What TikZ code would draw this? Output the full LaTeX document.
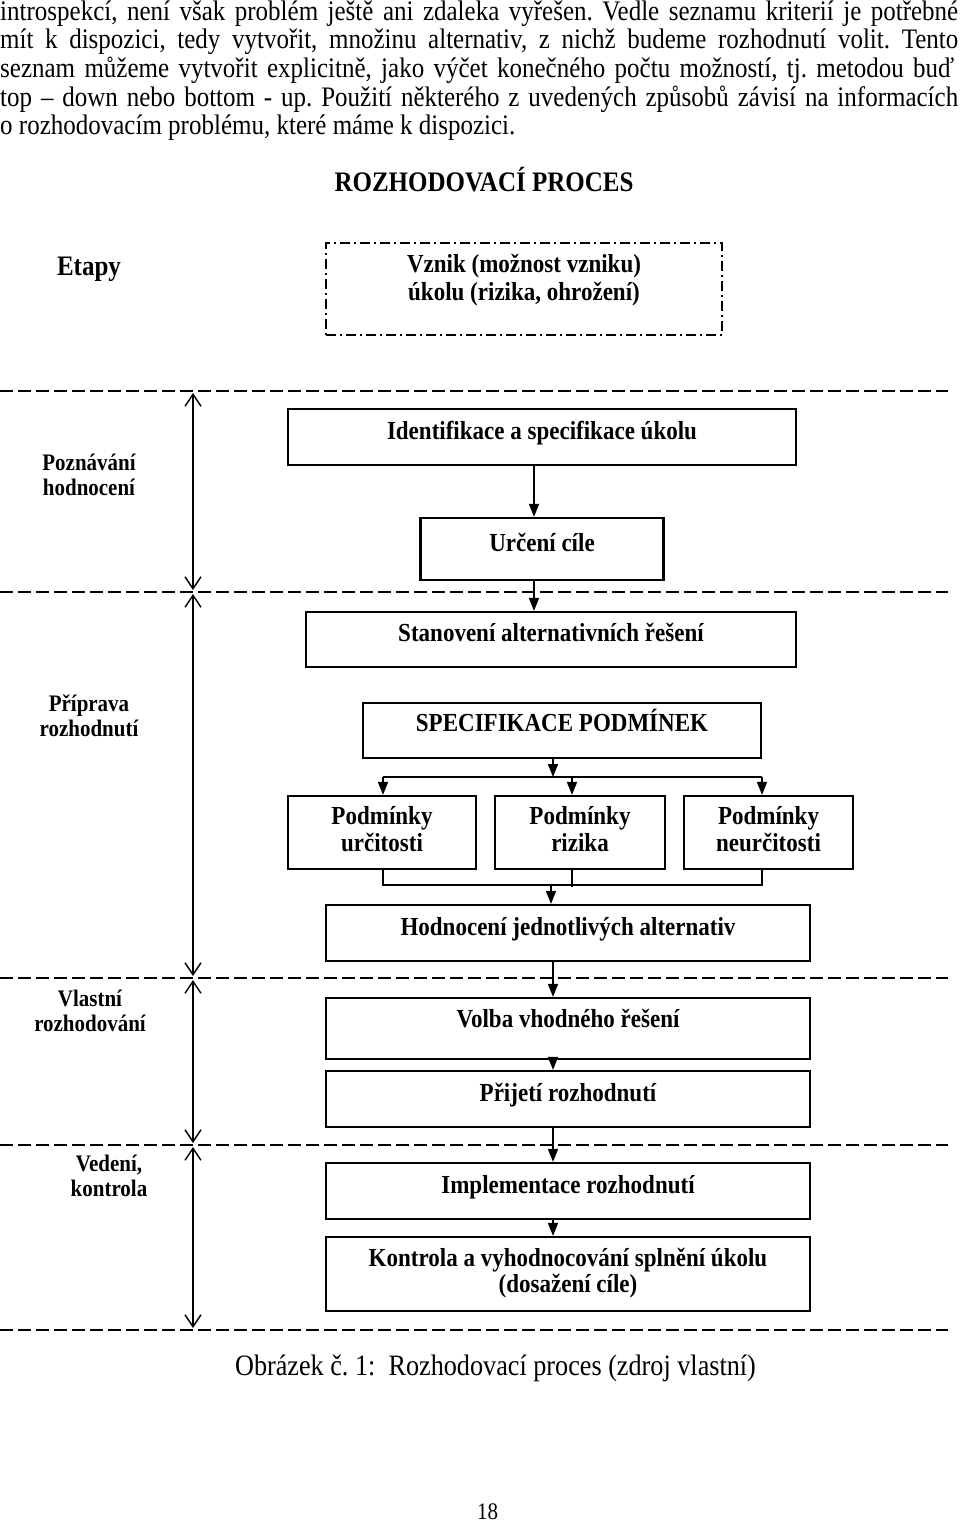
\documentclass[tikz,border=0pt]{standalone}
\usepackage{fontspec}
\setmainfont{Liberation Serif}[FakeStretch=0.885]
\usetikzlibrary{arrows.meta}
\frenchspacing
\newcommand\FBody{\fontsize{28.25}{28.7}\selectfont}
\newcommand\FBx{\fontsize{26}{27}\selectfont}
\newcommand\FLab{\fontsize{23.7}{25}\selectfont}
\newcommand\ML[1]{\begin{tabular}{@{}c@{}}#1\end{tabular}}
\tikzset{
  bx/.style={draw, line width=2.2pt, inner sep=0pt, font=\FBx\bfseries},
  one/.style={text height=20pt, text depth=#1},
  lab/.style={inner sep=0pt, font=\FLab\bfseries},
  arr/.style={line width=1.6pt, -{Triangle[length=13pt,width=10pt]}},
  ln/.style={line width=1.6pt},
  dbl/.style={line width=1.4pt, {Straight Barb[length=12pt,width=16pt]}-{Straight Barb[length=12pt,width=16pt]}, shorten >=2pt, shorten <=2pt},
  sepline/.style={line width=2pt, dash pattern=on 12.5pt off 5.5pt},
  bodyline/.style={inner sep=0pt, anchor=base west, font=\FBody},
}
\begin{document}
\begin{tikzpicture}[x=1pt,y=-1pt]
\useasboundingbox (0,0) rectangle (960,1530);
% body text
\node[bodyline] (p1) at (0,20.2) {\makebox[958pt][s]{introspekcí, není však problém ještě ani zdaleka vyřešen. Vedle seznamu kriterií je potřebné}};
\node[bodyline] (p2) at (0,48.9) {\makebox[958pt][s]{mít k dispozici, tedy vytvořit, množinu alternativ, z nichž budeme rozhodnutí volit. Tento}};
\node[bodyline] (p3) at (0,77.6) {\makebox[954pt][s]{seznam můžeme vytvořit explicitně, jako výčet konečného počtu možností, tj. metodou buď}};
\node[bodyline] (p4) at (0,106.3) {\makebox[958pt][s]{top – down nebo bottom - up. Použití některého z uvedených způsobů závisí na informacích}};
\node[bodyline] (p5) at (0,135) {o rozhodovacím problému, které máme k dispozici.};
% title
\node[inner sep=0pt, anchor=base, font=\FBody\bfseries] (title) at (484,192) {ROZHODOVACÍ PROCES};
\node[inner sep=0pt, anchor=base, font=\FBody\bfseries] (etapy) at (89,275) {Etapy};
\node[draw, line width=1.8pt, dash pattern=on 10pt off 4pt on 2pt off 4pt, inner sep=0pt,
      minimum width=396pt, minimum height=92pt, font=\fontsize{26}{28}\selectfont\bfseries] (vz) at (524,289)
      {\ML{Vznik (možnost vzniku)\\úkolu (rizika, ohrožení)\rule[-24.4pt]{0pt}{0pt}}};
% separators
\foreach \i/\y in {1/391,2/592,3/978,4/1145,5/1330}{
  \coordinate (hl\i) at (0,\y);
  \coordinate (hr\i) at (948,\y);
  \draw[sepline] (hl\i) -- (hr\i);
}
% stage arrows
\coordinate (v1) at (193,391);
\coordinate (v2) at (193,592);
\coordinate (v3) at (193,978);
\coordinate (v4) at (193,1145);
\coordinate (v5) at (193,1330);
\draw[dbl] (v1) -- (v2);
\draw[dbl] (v2) -- (v3);
\draw[dbl] (v3) -- (v4);
\draw[dbl] (v4) -- (v5);
% stage labels
\node[lab] (e1) at (89,478) {\ML{Poznávání\\hodnocení}};
\node[lab] (e2) at (89,718.5) {\ML{Příprava\\rozhodnutí}};
\node[lab] (e3) at (90,1013.5) {\ML{Vlastní\\rozhodování}};
\node[lab] (e4) at (109,1179) {\ML{Vedení,\\kontrola}};
% boxes
\node[bx, one=16pt, minimum width=508pt, minimum height=56pt] (B1) at (542,437) {Identifikace a specifikace úkolu};
\node[bx, one=16pt, minimum width=243pt, minimum height=62pt] (B2) at (542,549) {Určení cíle};
\node[bx, one=17pt, minimum width=490pt, minimum height=55pt] (B3) at (551,639.5) {Stanovení alternativních řešení};
\node[bx, one=19pt, minimum width=398pt, minimum height=55pt] (B4) at (562,730.5) {SPECIFIKACE PODMÍNEK};
\node[bx, minimum width=188pt, minimum height=73pt] (B5) at (382,832.5) {\ML{Podmínky\\určitosti}};
\node[bx, minimum width=170pt, minimum height=73pt] (B6) at (580,832.5) {\ML{Podmínky\\rizika}};
\node[bx, minimum width=169pt, minimum height=73pt] (B7) at (768.5,832.5) {\ML{Podmínky\\neurčitosti}};
\node[bx, one=16pt, minimum width=484pt, minimum height=56pt] (B8) at (568,933) {Hodnocení jednotlivých alternativ};
\node[bx, one=23pt, minimum width=484pt, minimum height=61pt] (B9) at (568,1028.5) {Volba vhodného řešení};
\node[bx, one=16pt, minimum width=484pt, minimum height=56pt] (B10) at (568,1099) {Přijetí rozhodnutí};
\node[bx, one=16pt, minimum width=484pt, minimum height=56pt] (B11) at (568,1191) {Implementace rozhodnutí};
\node[bx, minimum width=484pt, minimum height=74pt, font=\fontsize{26}{26}\selectfont\bfseries] (B12) at (568,1274) {\ML{Kontrola a vyhodnocování splnění úkolu\\(dosažení cíle)}};
% connectors
\coordinate (a1) at (534,0);
\coordinate (a2) at (553,0);
\draw[arr] (B1.south -| a1) -- (B2.north -| a1);
\draw[arr] (B2.south -| a1) -- (B3.north -| a1);
\coordinate (tl) at (383,777);
\coordinate (tm) at (572,777);
\coordinate (tr) at (762,777);
\coordinate (ti) at (553,777);
\draw[arr] (B4.south -| ti) -- (ti);
\draw[ln] (tl) -- (tr);
\draw[arr] (tl) -- (B5.north -| tl);
\draw[arr] (tm) -- (B6.north -| tm);
\draw[arr] (tr) -- (B7.north -| tr);
\coordinate (jl) at (383,885);
\coordinate (jr) at (762,885);
\coordinate (jm) at (572,887);
\coordinate (jo) at (551,885);
\draw[ln] (B5.south -| jl) -- (jl) -- (jr) -- (B7.south -| jr);
\draw[ln] (B6.south -| jm) -- (jm);
\draw[arr] (jo) -- (B8.north -| jo);
\draw[arr] (B8.south -| a2) -- (B9.north -| a2);
\draw[arr] (B9.south -| a2) -- (B10.north -| a2);
\draw[arr] (B10.south -| a2) -- (B11.north -| a2);
\draw[arr] (B11.south -| a2) -- (B12.north -| a2);
% caption and page number
\node[inner sep=0pt, anchor=base, font=\fontsize{29.6}{30}\selectfont] (cap) at (495.5,1375) {Obrázek č. 1:\ \ Rozhodovací proces (zdroj vlastní)};
\node[inner sep=0pt, anchor=base, font=\FLab] (pg) at (487.5,1519) {18};
\end{tikzpicture}
\end{document}
